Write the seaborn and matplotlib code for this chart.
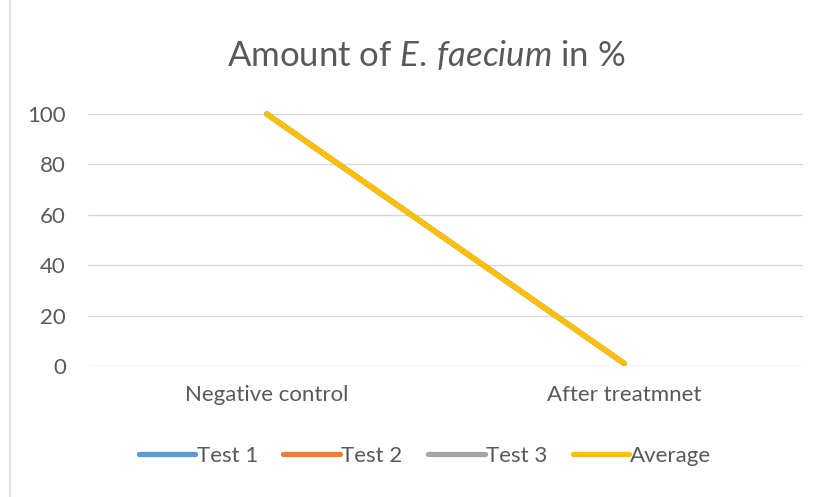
import pandas as pd
import seaborn as sns
import matplotlib.pyplot as plt
from matplotlib.lines import Line2D

sns.set_theme(style="white")
plt.rcParams['font.family'] = ['Lato', 'DejaVu Sans']
plt.rcParams['mathtext.fontset'] = 'custom'
plt.rcParams['mathtext.rm'] = 'Lato'
plt.rcParams['mathtext.it'] = 'Lato:italic'
# ----------------------------------------------------------------------------------------------------------------------

# Chart data
categories = ["Negative control", "After treatmnet"]
test_1 = [100, 1]
test_2 = [100, 1]
test_3 = [100, 1]
average = [100, 1]

series_names = ["Test 1", "Test 2", "Test 3", "Average"]
colors = ["#5B9BD5", "#ED7D31", "#A5A5A5", "#FFC000"]
text_color = "#595959"

# Long format for seaborn
df = pd.DataFrame({
    "category": categories * 4,
    "pos": [0, 1] * 4,
    "value": test_1 + test_2 + test_3 + average,
    "series": [s for s in series_names for _ in categories],
})

fig = plt.figure(figsize=(8.27, 4.97), dpi=100)
ax = fig.add_axes([0.1064, 0.2636, 0.8646, 0.507])

sns.lineplot(data=df, x="pos", y="value", hue="series", hue_order=series_names,
             palette=colors, linewidth=3.8, ax=ax, legend=False,
             solid_capstyle="round", clip_on=False)

# Axes styling, Excel look
ax.set_xlim(-0.5, 1.5)
ax.set_ylim(0, 100)
ax.set_yticks(range(0, 101, 20))
ax.set_xticks([0, 1])
ax.set_xticklabels(categories)
ax.set_xlabel("")
ax.set_ylabel("")
ax.grid(axis="y", color="#D9D9D9", linewidth=1)
ax.set_axisbelow(True)
for side in ["top", "right", "left", "bottom"]:
    ax.spines[side].set_visible(False)
ax.tick_params(axis="both", length=0, labelsize=16, colors=text_color)
ax.tick_params(axis="y", pad=16)
ax.tick_params(axis="x", pad=14)

fig.text(0.515, 0.89, r"Amount of $\mathit{E.\,faecium}$ in %", ha="center", va="center",
         fontsize=25, color=text_color)

# Legend at the bottom
handles = [Line2D([0], [0], color=c, linewidth=3.8, solid_capstyle="round") for c in colors]
leg = fig.legend(handles, series_names, loc="center", bbox_to_anchor=(0.514, 0.083), ncol=4,
                 frameon=False, fontsize=16, handlelength=2.55, handletextpad=0.05,
                 columnspacing=1.15, labelcolor=text_color)

# Chart area border on the left
fig.add_artist(Line2D([0.0121, 0.0121], [0, 1], color="#D9D9D9", linewidth=1.2, transform=fig.transFigure))

fig.savefig("out.png", dpi=100)
